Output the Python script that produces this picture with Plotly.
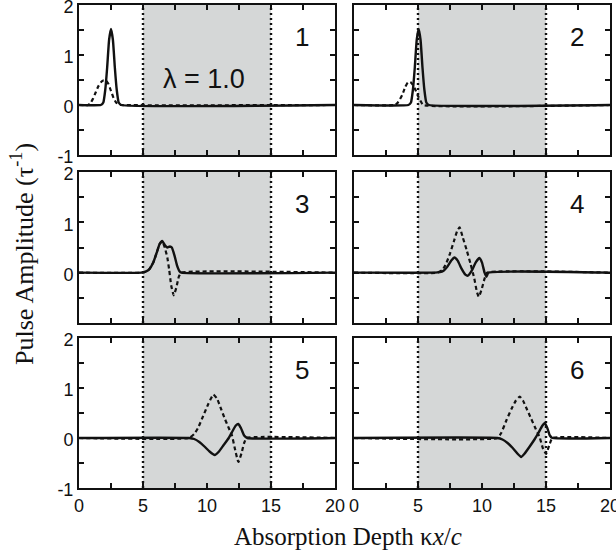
import plotly.graph_objects as go

# ---------------- data ----------------
x_ticks = [0, 2.5, 5, 7.5, 10, 12.5, 15, 17.5, 20]
x_ticktext = ["0", "", "5", "", "10", "", "15", "", "20"]
y_ticks = [-1, -0.5, 0, 0.5, 1, 1.5, 2]
y_ticktext_full = ["-1", "", "0", "", "1", "", "2"]
y_ticktext_no_m1 = ["", "", "0", "", "1", "", "2"]

band_start = 5
band_end = 15
panel_labels = ["1", "2", "3", "4", "5", "6"]

# panel 1
p1_solid_x = [0, 1.7, 1.9, 2.05, 2.2, 2.35, 2.5, 2.65, 2.8, 2.95, 3.1, 3.3, 20]
p1_solid_y = [0, 0, 0.05, 0.3, 0.75, 1.3, 1.52, 1.3, 0.75, 0.3, 0.05, 0, 0]
p1_dash_x = [0, 0.7, 0.9, 1.1, 1.3, 1.5, 1.7, 1.9, 2.1, 2.3, 2.5, 2.7, 2.9, 3.1, 3.3, 20]
p1_dash_y = [0, 0, 0.04, 0.13, 0.25, 0.37, 0.45, 0.49, 0.49, 0.42, 0.28, 0.14, 0.05, 0.01, 0, 0]

# panel 2
p2_solid_x = [0, 4.25, 4.45, 4.6, 4.75, 4.9, 5.05, 5.2, 5.35, 5.5, 5.65, 5.85, 20]
p2_solid_y = [0, 0, 0.05, 0.3, 0.75, 1.3, 1.52, 1.3, 0.75, 0.3, 0.05, 0, 0]
p2_dash_x = [0, 3.2, 3.4, 3.6, 3.8, 4.0, 4.2, 4.4, 4.6, 4.8, 5.0, 5.2, 5.4, 20]
p2_dash_y = [0, 0, 0.04, 0.12, 0.22, 0.36, 0.45, 0.46, 0.4, 0.3, 0.18, 0.08, 0, 0]

# panel 3
p3_solid_x = [0, 4.9, 5.2, 5.5, 5.8, 6.1, 6.3, 6.5, 6.7, 6.9, 7.1, 7.25, 7.45, 7.65, 7.85, 8.0, 20]
p3_solid_y = [0, 0, 0.02, 0.07, 0.2, 0.42, 0.57, 0.63, 0.55, 0.5, 0.52, 0.5, 0.35, 0.15, 0.03, 0, 0]
p3_dash_x = [0, 4.9, 5.2, 5.5, 5.8, 6.1, 6.3, 6.5, 6.7, 6.9, 7.05, 7.2, 7.4, 7.6, 7.8, 8.0, 20]
p3_dash_y = [0, 0, 0.02, 0.07, 0.2, 0.42, 0.57, 0.62, 0.5, 0.3, 0.05, -0.25, -0.45, -0.3, -0.08, 0, 0]

# panel 4
p4_solid_x = [0, 6.3, 6.7, 7.0, 7.3, 7.6, 7.85, 8.1, 8.4, 8.7, 8.9, 9.2, 9.5, 9.8, 10.0, 10.2, 10.35, 10.5, 20]
p4_solid_y = [0, 0, 0.01, 0.04, 0.12, 0.24, 0.3, 0.24, 0.08, -0.04, -0.06, 0.04, 0.2, 0.29, 0.2, 0.0, -0.08, 0, 0]
p4_dash_x = [0, 6.5, 6.9, 7.2, 7.5, 7.8, 8.05, 8.25, 8.5, 8.8, 9.1, 9.4, 9.6, 9.75, 9.95, 10.2, 10.4, 20]
p4_dash_y = [0, 0, 0.05, 0.18, 0.38, 0.62, 0.82, 0.9, 0.7, 0.45, 0.18, -0.12, -0.38, -0.48, -0.35, -0.12, 0, 0]

# panel 5
p5_solid_x = [0, 8.6, 9.0, 9.4, 9.8, 10.2, 10.6, 10.9, 11.3, 11.7, 12.0, 12.25, 12.45, 12.65, 12.9, 13.15, 20]
p5_solid_y = [0, 0, -0.02, -0.08, -0.17, -0.27, -0.34, -0.28, -0.14, 0.0, 0.14, 0.25, 0.28, 0.2, 0.05, 0, 0]
p5_dash_x = [0, 8.6, 9.0, 9.3, 9.7, 10.1, 10.5, 10.8, 11.1, 11.4, 11.7, 11.95, 12.15, 12.45, 12.7, 12.9, 13.1, 20]
p5_dash_y = [0, 0, 0.08, 0.2, 0.44, 0.68, 0.87, 0.78, 0.58, 0.38, 0.2, 0.05, -0.18, -0.48, -0.3, -0.1, 0, 0]

# panel 6
p6_solid_x = [0, 11.2, 11.6, 12.0, 12.4, 12.8, 13.05, 13.3, 13.7, 14.1, 14.4, 14.7, 14.9, 15.1, 15.3, 15.5, 20]
p6_solid_y = [0, 0, -0.03, -0.1, -0.2, -0.32, -0.38, -0.32, -0.18, -0.03, 0.1, 0.24, 0.3, 0.2, 0.05, 0, 0]
p6_dash_x = [0, 11.2, 11.5, 11.9, 12.3, 12.65, 12.95, 13.2, 13.5, 13.85, 14.2, 14.5, 14.75, 15.0, 15.25, 15.5, 20]
p6_dash_y = [0, 0, 0.1, 0.35, 0.58, 0.75, 0.83, 0.75, 0.58, 0.38, 0.18, 0.02, -0.2, -0.32, -0.15, 0, 0]

panels = [
    (p1_solid_x, p1_solid_y, p1_dash_x, p1_dash_y),
    (p2_solid_x, p2_solid_y, p2_dash_x, p2_dash_y),
    (p3_solid_x, p3_solid_y, p3_dash_x, p3_dash_y),
    (p4_solid_x, p4_solid_y, p4_dash_x, p4_dash_y),
    (p5_solid_x, p5_solid_y, p5_dash_x, p5_dash_y),
    (p6_solid_x, p6_solid_y, p6_dash_x, p6_dash_y),
]

# ---------------- layout ----------------
W, H = 616, 554
col_px = [(79, 335), (354, 610)]
row_px = [(5, 155), (172, 323), (338, 488)]

TICK_FONT = dict(family="Liberation Sans, Arial, sans-serif", size=18, color="#111")
SERIF = "Liberation Serif, Times New Roman, serif"
INK = "#111"

fig = go.Figure()
layout = dict(
    width=W, height=H,
    margin=dict(l=0, r=0, t=0, b=0, autoexpand=False),
    paper_bgcolor="white", plot_bgcolor="white",
    showlegend=False,
    shapes=[], annotations=[],
)

for i, (sx, sy, dx, dy) in enumerate(panels):
    r, c = divmod(i, 2)
    n = i + 1
    xa = "x" if n == 1 else f"x{n}"
    ya = "y" if n == 1 else f"y{n}"
    xkey = "xaxis" if n == 1 else f"xaxis{n}"
    ykey = "yaxis" if n == 1 else f"yaxis{n}"

    x0p, x1p = col_px[c]
    t, b = row_px[r]
    layout[xkey] = dict(
        domain=[x0p / W, x1p / W], anchor=ya, range=[0, 20], automargin=False,
        tickmode="array", tickvals=x_ticks, ticktext=x_ticktext,
        showticklabels=(r == 2), ticks="inside", ticklen=5, tickwidth=2,
        tickcolor=INK, showline=True, linewidth=2, linecolor=INK,
        mirror="allticks", showgrid=False, zeroline=False,
        tickfont=TICK_FONT, ticklabeloverflow="allow",
    )
    layout[ykey] = dict(
        domain=[1 - b / H, 1 - t / H], anchor=xa, range=[-1, 2], automargin=False,
        tickmode="array", tickvals=y_ticks,
        ticktext=(y_ticktext_no_m1 if r == 1 else y_ticktext_full),
        showticklabels=(c == 0), ticks="inside", ticklen=5, tickwidth=2,
        tickcolor=INK, showline=True, linewidth=2, linecolor=INK,
        mirror="allticks", showgrid=False, zeroline=False,
        tickfont=TICK_FONT, ticklabeloverflow="allow", ticklabelshift=2,
    )

    layout["shapes"].append(dict(
        type="rect", xref=xa, yref=ya, x0=band_start, x1=band_end, y0=-1, y1=2,
        fillcolor="#d5d7d7", line=dict(width=0), layer="below",
    ))
    for xv in (band_start, band_end):
        layout["shapes"].append(dict(
            type="line", xref=xa, yref=ya, x0=xv, x1=xv, y0=-1, y1=2,
            line=dict(color=INK, width=2.4, dash="2px,3px"), layer="above",
        ))

    fig.add_trace(go.Scatter(
        x=dx, y=dy, xaxis=xa, yaxis=ya, mode="lines",
        line=dict(color=INK, width=2.2, dash="4px,3px", shape="spline", smoothing=0.4),
        hoverinfo="skip",
    ))
    fig.add_trace(go.Scatter(
        x=sx, y=sy, xaxis=xa, yaxis=ya, mode="lines",
        line=dict(color=INK, width=2.4, shape="spline", smoothing=0.4),
        hoverinfo="skip",
    ))

    # panel number
    layout["annotations"].append(dict(
        text=panel_labels[i], xref=f"{xa} domain", yref=f"{ya} domain",
        x=0.87, y=0.79, xanchor="center", yanchor="middle", showarrow=False,
        font=dict(family="Liberation Sans, Arial, sans-serif", size=26, color=INK),
    ))

layout["annotations"].append(dict(
    text="λ = 1.0", xref="x", yref="y", x=9.8, y=0.52,
    xanchor="center", yanchor="middle", showarrow=False,
    font=dict(family="Liberation Sans, Arial, sans-serif", size=27, color=INK),
))
layout["annotations"].append(dict(
    text="Absorption Depth κ<i>x</i>/<i>c</i>", xref="paper", yref="paper",
    x=348 / W, y=1 - 536 / H, xanchor="center", yanchor="middle", showarrow=False,
    font=dict(family=SERIF, size=25, color=INK),
))
layout["annotations"].append(dict(
    text="Pulse Amplitude (τ<sup>-1</sup>)", xref="paper", yref="paper",
    x=22 / W, y=1 - 254 / H, xanchor="center", yanchor="middle", showarrow=False,
    textangle=-90,
    font=dict(family=SERIF, size=26, color=INK),
))

fig.update_layout(**layout)
fig.write_html(
    "out.html",
    config={"displayModeBar": False},
    post_script="document.body.style.margin='0';document.body.style.overflow='hidden';",
)
